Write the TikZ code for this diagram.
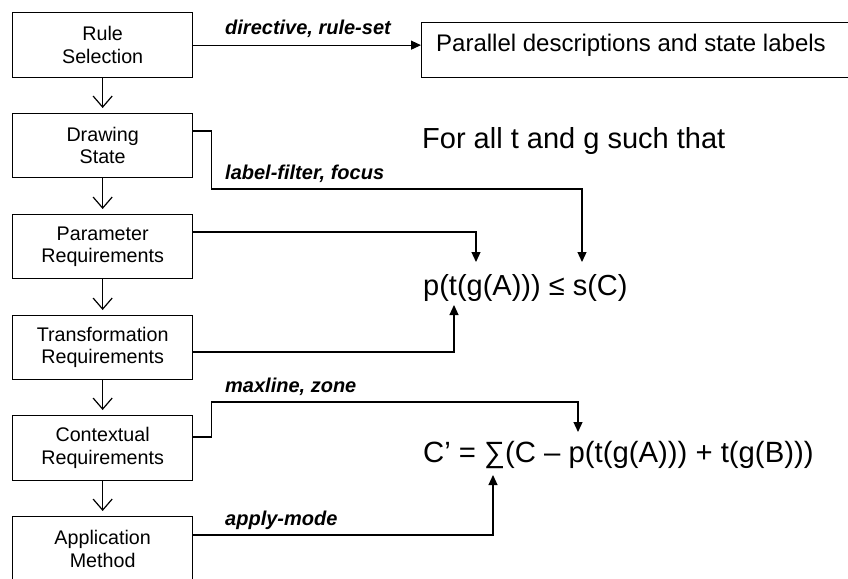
\documentclass[tikz,border=0pt]{standalone}
\usepackage{fontspec}
\setmainfont{Liberation Sans}
\usetikzlibrary{arrows.meta,calc}

\begin{document}
\begin{tikzpicture}[x=1pt,y=-1pt,
  stage/.style={draw, line width=1.3pt, minimum width=180pt, minimum height=65pt,
    inner sep=0pt, align=center, anchor=north west,
    font=\fontsize{19.7}{22.5}\selectfont},
  flow/.style={line width=1.2pt, -{Straight Barb[length=11pt,width=19pt]}, shorten >=5pt},
  feed/.style={line width=1.2pt, -{Triangle[length=10pt,width=9pt]}},
  tag/.style={anchor=base west, inner sep=0pt,
    font=\fontsize{20}{23}\selectfont\bfseries\itshape},
  formula/.style={anchor=base west, inner sep=0pt, font=\fontsize{29}{34}\selectfont}]

\useasboundingbox (0,0) rectangle (848,578);
\clip (0,0) rectangle (848,578);

% processing stages
\node[stage] (rs) at (12,12)  {Rule\\Selection};
\node[stage, minimum height=64pt] (ds) at (12,113) {Drawing\\State};
\node[stage, minimum height=64pt] (pr) at (12,214) {Parameter\\Requirements};
\node[stage, minimum height=64pt] (tr) at (12,315) {Transformation\\Requirements};
\node[stage] (cr) at (12,415) {Contextual\\Requirements};
\node[stage] (am) at (12,516) {Application\\Method};

\draw[flow] (rs.south) -- (ds.north);
\draw[flow] (ds.south) -- (pr.north);
\draw[flow] (pr.south) -- (tr.north);
\draw[flow] (tr.south) -- (cr.north);
\draw[flow] (cr.south) -- (am.north);

% output box
\node[draw, line width=1.3pt, minimum width=450pt, minimum height=55pt,
      inner sep=0pt, anchor=north west] (par) at (421,22) {};
\node[anchor=base west, inner sep=0pt, font=\fontsize{24}{28}\selectfont]
      (partext) at (436,52) {Parallel descriptions and state labels};

% conditions
\node[anchor=base west, inner sep=0pt, font=\fontsize{29}{34}\selectfont]
      (forall) at (422,148) {For all t and g such that};
\node[formula] (cond) at (423,295) {p(t(g(A))) ≤ s(C)};
\node[formula, font=\fontsize{29.3}{34}\selectfont] (upd) at (423,462)
      {C’ = ∑(C – p(t(g(A))) + t(g(B)))};

% arrow targets in the formulas
\coordinate (tipS)   at (582,262);
\coordinate (tipG)   at (476,262);
\coordinate (tipT)   at (454,305);
\coordinate (tipP)   at (578,432);
\coordinate (tipSum) at (493,475);

% exits on the stage boxes
\coordinate (dsout) at ($(ds.north east)+(0,18)$);
\coordinate (prout) at ($(pr.north east)+(0,18)$);
\coordinate (trout) at ($(tr.north east)+(0,37)$);
\coordinate (crout) at ($(cr.north east)+(0,22)$);
\coordinate (amout) at ($(am.north east)+(0,19)$);

\draw[feed] (rs.east) -- (rs.east -| par.west);
\draw[feed] (dsout) -- ++(18,0) -- ++(0,58) -| (tipS);
\draw[feed] (prout) -| (tipG);
\draw[feed] (trout) -| (tipT);
\draw[feed] (crout) -- ++(18,0) -- ++(0,-35) -| (tipP);
\draw[feed] (amout) -| (tipSum);

% connector labels
\node[tag] (l1) at (225,35)  {directive, rule-set};
\node[tag] (l2) at (225,179) {label-filter, focus};
\node[tag] (l3) at (225,392) {maxline, zone};
\node[tag] (l4) at (225,525) {apply-mode};
\end{tikzpicture}
\end{document}
